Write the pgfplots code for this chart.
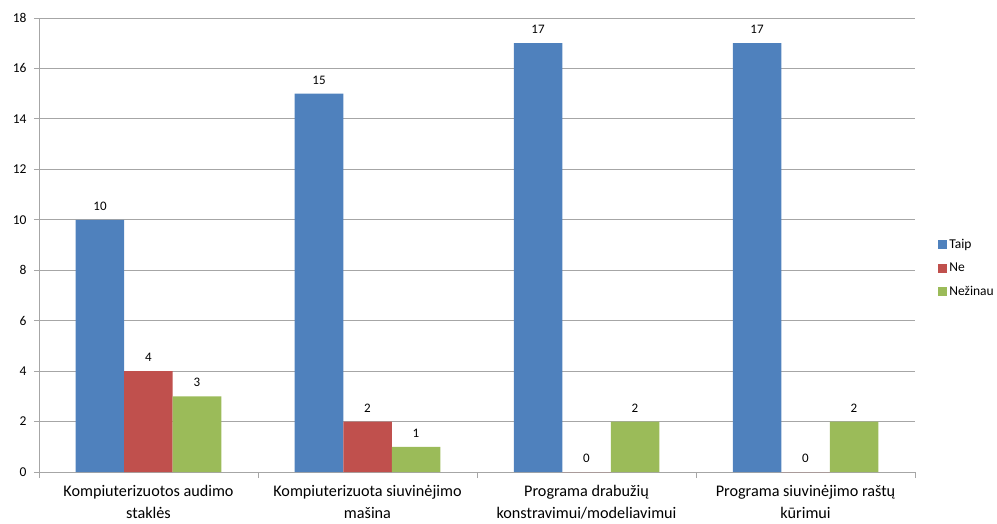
\documentclass[border=0pt]{standalone}
\usepackage{pgfplots}
\pgfplotsset{compat=1.18}
\usepackage{fontspec}
\setmainfont{Carlito}
\definecolor{cTaip}{HTML}{4F81BD}
\definecolor{cNe}{HTML}{C0504D}
\definecolor{cNez}{HTML}{9BBB59}
\definecolor{gridc}{HTML}{A6A6A6}
\begin{document}
\begin{tikzpicture}
\useasboundingbox (-39pt,-51pt) rectangle (958pt,472pt);
\begin{axis}[
  at={(0pt,0pt)}, anchor=south west,
  scale only axis, width=876pt, height=454pt,
  ybar=0pt, bar width=48.5pt,
  xmin=-0.5, xmax=3.5, ymin=0, ymax=18,
  ytick={0,2,...,18},
  xtick={0,1,2,3},
  xticklabels={{Kompiuterizuotos audimo\\staklės},{Kompiuterizuota siuvinėjimo\\mašina},{Programa drabužių\\konstravimui/modeliavimui},{Programa siuvinėjimo raštų\\kūrimui}},
  minor xtick={-0.5,0.5,1.5,2.5,3.5},
  major x tick style={draw=none},
  minor tick length=6pt, major tick length=5pt,
  tick align=outside, tick pos=left,
  ymajorgrids, grid style={gridc, line width=0.9pt},
  axis line style={gridc, line width=0.9pt},
  tick style={gridc, line width=0.9pt},
  axis x line*=bottom, axis y line*=left,
  x tick label style={align=center, font=\fontsize{16.2}{21.5}\selectfont, yshift=-5pt},
  y tick label style={font=\fontsize{13.5}{16}\selectfont, xshift=-4pt},
  /pgf/number format/assume math mode=true,
  nodes near coords,
  nodes near coords style={font=\fontsize{13}{15}\selectfont, black, yshift=6pt},
  legend style={draw=none, at={(1.023,0.449)}, anchor=west,
    font=\fontsize{13.5}{15}\selectfont, row sep=9pt, fill=none},
  legend cell align=left,
  legend image code/.code={\fill[#1] (0pt,-4.5pt) rectangle (9pt,4.5pt);},
]
\addplot[fill=cTaip, draw=none] coordinates {(0,10) (1,15) (2,17) (3,17)};
\addplot[fill=cNe, draw=none] coordinates {(0,4) (1,2) (2,0) (3,0)};
\addplot[fill=cNez, draw=none] coordinates {(0,3) (1,1) (2,2) (3,2)};
\legend{Taip,Ne,Nežinau}
\end{axis}
\end{tikzpicture}
\end{document}
